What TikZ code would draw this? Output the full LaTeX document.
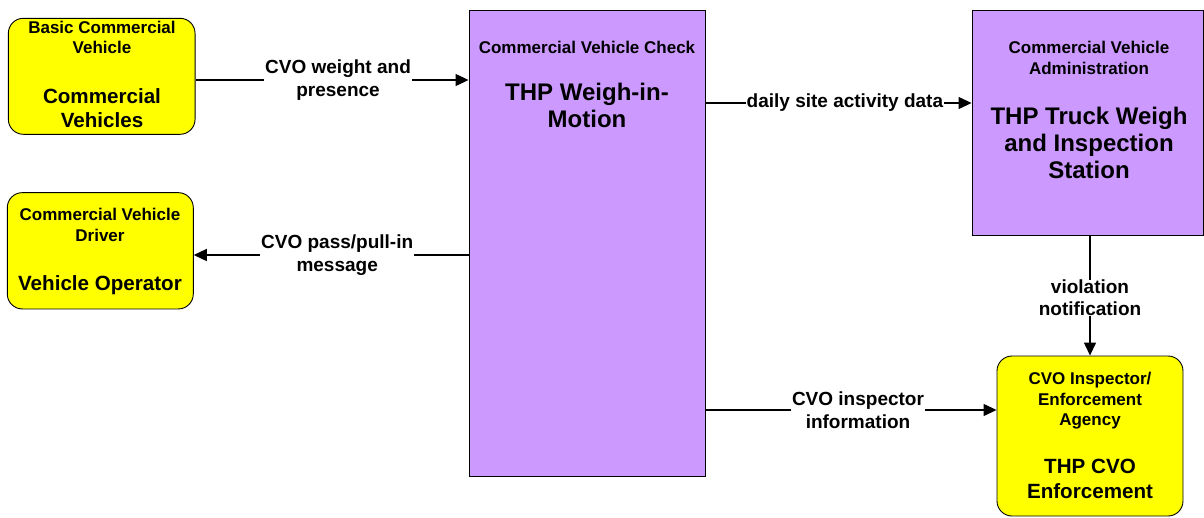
\documentclass[tikz,border=0pt]{standalone}
\usepackage{fontspec}
\setmainfont{Liberation Sans}
\usetikzlibrary{arrows.meta}
\definecolor{boxpurple}{HTML}{CC99FF}
\definecolor{boxyellow}{HTML}{FFFF00}
\tikzset{
  ybox/.style={draw=black, line width=0.9pt, fill=boxyellow, rounded corners=15pt, inner sep=0pt},
  pbox/.style={draw=black, line width=0.9pt, fill=boxpurple, inner sep=0pt},
  smalltxt/.style={align=center, inner sep=0pt, font=\bfseries\fontsize{17}{20.5}\selectfont},
  medtxt/.style={align=center, inner sep=0pt, font=\bfseries\fontsize{20.6}{24.5}\selectfont},
  bigtxt/.style={align=center, inner sep=0pt, font=\bfseries\fontsize{24}{27}\selectfont},
  flowlbl/.style={align=center, fill=white, inner xsep=1pt, inner ysep=0pt, font=\bfseries\fontsize{19}{22.5}\selectfont},
  arr/.style={line width=1.3pt, -{Triangle[length=13pt,width=12pt]}},
}
\begin{document}
\begin{tikzpicture}[x=1pt,y=-1pt]
\useasboundingbox (0,0) rectangle (1204,517);
% boxes
\node[ybox, minimum width=186.7pt, minimum height=116pt] (b1) at (101.7,76.3) {};
\node[ybox, minimum width=186pt, minimum height=116.3pt] (b2) at (100.3,250.8) {};
\node[pbox, minimum width=236pt, minimum height=466pt] (wim) at (587,243) {};
\node[pbox, minimum width=231pt, minimum height=225pt] (adm) at (1087.5,122.5) {};
\node[ybox, minimum width=186pt, minimum height=160pt] (enf) at (1090,436) {};
% box texts
\node[smalltxt] (b1s) at (102,37.5) {Basic Commercial\\Vehicle};
\node[medtxt] (b1b) at (102,108) {Commercial\\Vehicles};
\node[smalltxt] (b2s) at (100,225) {Commercial Vehicle\\Driver};
\node[medtxt] (b2b) at (100,285) {Vehicle Operator};
\node[smalltxt] (wims) at (587,47.5) {Commercial Vehicle Check};
\node[bigtxt] (wimb) at (587,105) {THP Weigh-in-\\Motion};
\node[smalltxt] (adms) at (1089,58) {Commercial Vehicle\\Administration};
\node[bigtxt] (admb) at (1089,143) {THP Truck Weigh\\and Inspection\\Station};
\node[smalltxt] (enfs) at (1090,401) {CVO Inspector/\\Enforcement\\Agency};
\node[medtxt] (enfb) at (1090,479) {THP CVO\\Enforcement};
% connectors
\coordinate (a1) at ([yshift=-3.7pt]b1.east);
\coordinate (a2) at ([yshift=-4.2pt]b2.east);
\coordinate (a3) at ([yshift=19.5pt]adm.west);
\coordinate (a4) at ([yshift=26pt]enf.west);
\draw[arr] (a1) -- node[flowlbl, pos=0.522] (l1) {CVO weight and\\presence} (a1 -| wim.west);
\draw[arr] (a2 -| wim.west) -- node[flowlbl, pos=0.478] (l2) {CVO pass/pull-in\\message} (a2);
\draw[arr] (a3 -| wim.east) -- node[flowlbl, pos=0.524] (l3) {daily site activity data} (a3);
\draw[arr] (adm.south -| enf.north) -- node[flowlbl, pos=0.52] (l4) {violation\\notification} (enf.north);
\draw[arr] (a4 -| wim.east) -- node[flowlbl, pos=0.524] (l5) {CVO inspector\\information} (a4);
\end{tikzpicture}
\end{document}
